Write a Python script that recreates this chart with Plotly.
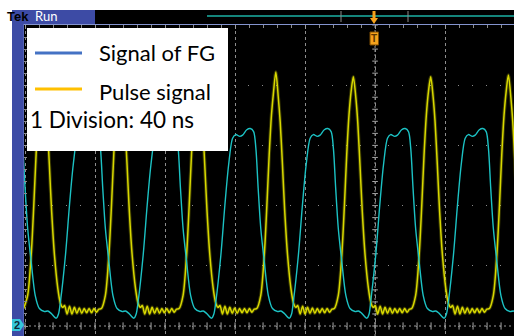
import plotly.graph_objects as go

# ---------------- data ----------------
# time in ns (0 = trigger position), amplitude in screen divisions (0 = ch reference line)
cycle_t = [-189.9, -145.5, -101.1, -56.7, -12.4, 31.8, 76.2]      # instants of the pulse peaks
pulse_peak_v = [4.10, 4.12, 4.15, 4.22, 4.14, 4.14, 4.17]         # peak height of each pulse

# one period of the pulse signal, time relative to its peak
pulse_rel_t = [-10.9, -8.6, -6.6, -5.1, -3.8, -2.5, -1.3, 0.0, 1.4, 2.5, 3.8, 5.1, 6.7, 8.6, 10.1, 11.4,
               12.5, 13.9, 15.3, 16.7, 18.1, 19.5, 20.9, 22.3, 23.7, 25.1, 26.5, 27.9, 29.3, 30.7, 32.1]
pulse_rel_v = [0.29, 0.51, 1.18, 2.01, 2.84, 3.50, 3.89, 4.14, 3.80, 3.39, 2.67, 1.90, 1.18, 0.63, 0.38, 0.31,
               0.34, 0.20, 0.33, 0.20, 0.31, 0.21, 0.30, 0.21, 0.29, 0.22, 0.29, 0.22, 0.29, 0.23, 0.28]

# one period of the function-generator signal, time relative to the same pulse peak
fg_rel_t = [-34.3, -31.4, -29.1, -27.0, -24.7, -22.9, -20.6, -19.0, -16.6, -14.6, -12.7, -11.4,
            -10.1, -8.6, -6.6, -4.3, -1.9, 1.0, 2.9, 4.8, 7.7, 9.0]
fg_rel_v = [0.40, 1.18, 2.01, 2.67, 3.12, 3.18, 3.15, 3.17, 3.26, 3.28, 3.23, 2.95,
            2.29, 1.62, 1.07, 0.51, 0.29, 0.24, 0.25, 0.21, 0.13, 0.20]

x_range = [-200.6, 79.4]
y_range = [-0.166, 5.0]

legend_names = ["Signal of FG", "Pulse signal"]
legend_colors = ["#4472C4", "#FFC000"]
legend_note = "1 Division: 40 ns"

# ---------------- build traces ----------------
pulse_t, pulse_v, fg_t, fg_v = [], [], [], []
for c, pk in zip(cycle_t, pulse_peak_v):
    pulse_t += [c + r for r in pulse_rel_t]
    pulse_v += [pk if r == 0.0 else v for r, v in zip(pulse_rel_t, pulse_rel_v)]
    fg_t += [c + r for r in fg_rel_t]
    fg_v += fg_rel_v

fig = go.Figure()
fig.add_trace(go.Scatter(x=pulse_t, y=pulse_v, mode="lines", name="Pulse signal persistence",
                         line=dict(color="rgba(180,180,0,0.3)", width=3.5, shape="spline", smoothing=0.8),
                         hoverinfo="skip", showlegend=False))
fig.add_trace(go.Scatter(x=pulse_t, y=pulse_v, mode="lines", name="Pulse signal",
                         line=dict(color="#d8d800", width=1.5, shape="spline", smoothing=0.8), showlegend=False))
fig.add_trace(go.Scatter(x=fg_t, y=fg_v, mode="lines", name="Signal of FG",
                         line=dict(color="#1cc2c4", width=1.4, shape="spline", smoothing=0.8), showlegend=False))

# ---------------- screen decoration ----------------
W, H = 514, 336
ML, MR, MT, MB = 24, 0, 25, 0


def px(x):
    return (x - ML) / (W - ML - MR)


def py(y):
    return (H - MB - y) / (H - MT - MB)


shapes = []
blue = "#3d4ba5"
# left blue strip and top status bar
shapes.append(dict(type="rect", xref="paper", yref="paper", x0=px(12), x1=px(23.5), y0=py(336), y1=py(10),
                   fillcolor=blue, line=dict(width=0), layer="above"))
shapes.append(dict(type="rect", xref="paper", yref="paper", x0=px(95), x1=px(514), y0=py(24), y1=py(10),
                   fillcolor="black", line=dict(width=0), layer="above"))
shapes.append(dict(type="rect", xref="paper", yref="paper", x0=px(12), x1=px(95), y0=py(24), y1=py(10),
                   fillcolor=blue, line=dict(width=0), layer="above"))
shapes.append(dict(type="line", xref="paper", yref="paper", x0=px(207), x1=px(514), y0=py(16), y1=py(16),
                   line=dict(color="#14857b", width=2), layer="above"))
for bx in (341, 408):
    shapes.append(dict(type="line", xref="paper", yref="paper", x0=px(bx), x1=px(bx), y0=py(11), y1=py(22),
                       line=dict(color="#8c8c8c", width=1), layer="above"))
# trigger marker
orange = "#f5a21c"
shapes.append(dict(type="line", xref="paper", yref="paper", x0=px(374), x1=px(374), y0=py(11), y1=py(19),
                   line=dict(color=orange, width=3), layer="above"))
shapes.append(dict(type="path", xref="paper", yref="paper",
                   path=f"M {px(370)},{py(18)} L {px(378)},{py(18)} L {px(374)},{py(24)} Z",
                   fillcolor=orange, line=dict(width=0), layer="above"))
shapes.append(dict(type="rect", xref="paper", yref="paper", x0=px(370), x1=px(378.5), y0=py(45), y1=py(32),
                   fillcolor=orange, line=dict(color="#7a4a00", width=1), layer="above"))
# channel-2 reference marker (hexagon tag)
shapes.append(dict(type="path", xref="paper", yref="paper",
                   path=(f"M {px(12)},{py(319)} L {px(20)},{py(319)} L {px(24)},{py(325)} "
                         f"L {px(20)},{py(331)} L {px(12)},{py(331)} Z"),
                   fillcolor="#35c8dc", line=dict(width=0), layer="above"))
# centre cross-hair lines with fine ticks
shapes.append(dict(type="line", xref="x", yref="y", x0=0, x1=0, y0=y_range[0], y1=y_range[1],
                   line=dict(color="#9a9a9a", width=1, dash="2px,2px"), layer="below"))
shapes.append(dict(type="line", xref="x", yref="y", x0=x_range[0], x1=x_range[1], y0=0, y1=0,
                   line=dict(color="#9a9a9a", width=1, dash="2px,3px"), layer="below"))
for tx in range(-200, 80, 8):
    shapes.append(dict(type="line", xref="x", yref="y", x0=tx, x1=tx, y0=-0.06, y1=0.06,
                       line=dict(color="#a8a8a8", width=1), layer="below"))
for k in range(0, 26):
    ty = k * 0.2
    shapes.append(dict(type="line", xref="x", yref="y", x0=-1.6, x1=1.6, y0=ty, y1=ty,
                       line=dict(color="#a8a8a8", width=1), layer="below"))
# legend panel
shapes.append(dict(type="rect", xref="paper", yref="paper", x0=px(27), x1=px(228), y0=py(151), y1=py(28),
                   fillcolor="white", line=dict(width=0), layer="above"))
for ly, col in zip((53, 89), legend_colors):
    shapes.append(dict(type="line", xref="paper", yref="paper", x0=px(35), x1=px(82), y0=py(ly), y1=py(ly),
                       line=dict(color=col, width=3), layer="above"))

font_leg = dict(family="Lato, 'Open Sans', sans-serif", size=22, color="black")
annotations = [
    dict(xref="paper", yref="paper", x=px(97), y=py(52), text=legend_names[0], showarrow=False,
         xanchor="left", yanchor="middle", font=font_leg),
    dict(xref="paper", yref="paper", x=px(97), y=py(91), text=legend_names[1], showarrow=False,
         xanchor="left", yanchor="middle", font=font_leg),
    dict(xref="paper", yref="paper", x=px(28), y=py(120), text=legend_note, showarrow=False,
         xanchor="left", yanchor="middle", font=dict(family="Lato, 'Open Sans', sans-serif", size=22.5, color="black")),
    dict(xref="paper", yref="paper", x=px(31), y=py(16.5), text="<b>Tek</b>", showarrow=False,
         xanchor="right", yanchor="middle", font=dict(family="Liberation Sans, sans-serif", size=13, color="black")),
    dict(xref="paper", yref="paper", x=px(33), y=py(16.5), text="Run", showarrow=False,
         xanchor="left", yanchor="middle", font=dict(family="Lato, sans-serif", size=13, color="white")),
    dict(xref="paper", yref="paper", x=px(374.3), y=py(38.5), text="<b>T</b>", showarrow=False,
         xanchor="center", yanchor="middle", font=dict(family="Liberation Sans, sans-serif", size=10, color="#5a3600")),
    dict(xref="paper", yref="paper", x=px(17), y=py(325), text="<b>2</b>", showarrow=False,
         xanchor="center", yanchor="middle",
         font=dict(family="Liberation Sans, sans-serif", size=11, color="#0d2a3a")),
]

fig.update_layout(
    width=W, height=H, margin=dict(l=ML, r=MR, t=MT, b=MB, pad=0),
    paper_bgcolor="white", plot_bgcolor="black", showlegend=False,
    shapes=shapes, annotations=annotations,
)
fig.update_xaxes(range=x_range, tick0=0, dtick=40, side="top", showgrid=True, gridcolor="#8e8e8e",
                 gridwidth=1, griddash="3px,3px", ticks="inside", ticklen=4, tickcolor="#9a9a9a",
                 showticklabels=False, zeroline=False, showline=True, linecolor="#8494cf", linewidth=2,
                 minor=dict(dtick=8, ticks="inside", ticklen=3, tickcolor="#8a8a8a", showgrid=False))
fig.update_yaxes(range=y_range, tick0=0, dtick=1, showgrid=True, gridcolor="#8a8a8a", gridwidth=1,
                 griddash="1px,13px", ticks="inside", ticklen=4, tickcolor="#9a9a9a",
                 showticklabels=False, zeroline=False, showline=True, linecolor="#6f7fc4", linewidth=1,
                 minor=dict(dtick=0.2, ticks="inside", ticklen=3, tickcolor="#8a8a8a", showgrid=False))

fig.write_html("out.html", config={"displayModeBar": False},
               post_script="document.body.style.margin='0';document.body.style.overflow='hidden';")
